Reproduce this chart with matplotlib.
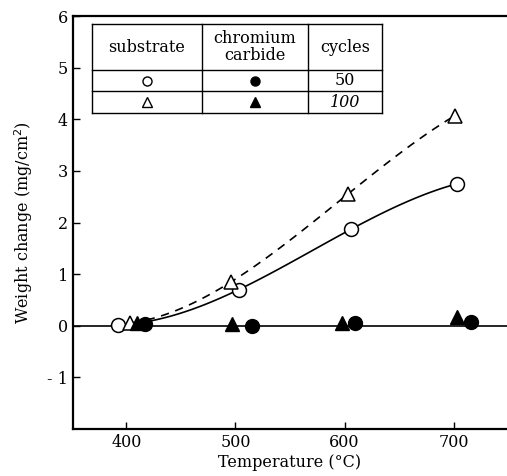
import matplotlib
matplotlib.use("Agg")
import matplotlib.pyplot as plt
import numpy as np

plt.rcParams['font.family'] = ['DejaVu Serif']

# substrate, 50 cycles (open circles) and 100 cycles (open triangles)
sub50_T = [392, 503, 606, 703]
sub50_W = [0.02, 0.70, 1.87, 2.75]
sub100_T = [403, 496, 603, 701]
sub100_W = [0.05, 0.85, 2.55, 4.07]

# chromium carbide, 50 cycles (filled circles) and 100 cycles (filled triangles)
cc50_T = [417, 515, 610, 716]
cc50_W = [0.03, 0.0, 0.05, 0.08]
cc100_T = [410, 497, 598, 703]
cc100_W = [0.06, 0.03, 0.06, 0.17]

yticks = [-1, 0, 1, 2, 3, 4, 5, 6]
xticks = [400, 500, 600, 700]

fig = plt.figure(figsize=(5.07, 4.76), dpi=100)
ax = fig.add_axes([0.144, 0.099, 0.856, 0.867])

# smooth trend curves through the substrate points
fit50 = np.polyfit(sub50_T, sub50_W, 3)
t50 = np.linspace(408, 700, 120)
ax.plot(t50, np.clip(np.polyval(fit50, t50), 0, None), color="black", lw=1.2, zorder=2)

fit100 = np.polyfit(sub100_T, sub100_W, 3)
t100 = np.linspace(405, 697, 120)
ax.plot(t100, np.polyval(fit100, t100), color="black", lw=1.2, ls=(0, (5, 4)), zorder=2)

# carbide line at zero
ax.axhline(0, color="black", lw=1.2, zorder=2)

ms = 10
ax.plot(sub50_T, sub50_W, "o", ms=ms, mfc="white", mec="black", mew=1.1, zorder=3)
ax.plot(sub100_T, sub100_W, "^", ms=ms, mfc="white", mec="black", mew=1.1, zorder=3)
ax.plot(cc100_T, cc100_W, "^", ms=ms, color="black", zorder=4)
ax.plot(cc50_T, cc50_W, "o", ms=ms, color="black", zorder=4)

ax.set_xlim(351, 749)
ax.set_ylim(-2, 6)
ax.set_xticks(xticks)
ax.set_yticks(yticks)
ax.set_yticklabels(["- 1", "0", "1", "2", "3", "4", "5", "6"])
ax.tick_params(direction="in", length=5, width=1, labelsize=11.5, top=False, right=False)
ax.spines["right"].set_visible(False)
for s in ["left", "bottom", "top"]:
    ax.spines[s].set_linewidth(1.6)

ax.set_xlabel("Temperature (°C)", fontsize=11.5, labelpad=2)
ax.set_ylabel("Weight change (mg/cm$^2$)", fontsize=11.5, labelpad=9)

# legend table drawn in axes coordinates
x0, x1, x2, x3 = 0.044, 0.297, 0.5415, 0.712
y0, y1, y2, y3 = 0.981, 0.869, 0.818, 0.765
tr = ax.transAxes
kw = dict(color="black", lw=1.0, transform=tr, zorder=5)
ax.fill([x0, x3, x3, x0], [y0, y0, y3, y3], color="white", transform=tr, zorder=4)
for y in [y0, y1, y2, y3]:
    ax.plot([x0, x3], [y, y], **kw)
for x in [x0, x1, x2, x3]:
    ax.plot([x, x], [y0, y3], **kw)

fs = 11.5
ax.text((x0 + x1) / 2, (y0 + y1) / 2, "substrate", ha="center", va="center", fontsize=fs, transform=tr, zorder=6)
ax.text((x1 + x2) / 2, (y0 + y1) / 2, "chromium\ncarbide", ha="center", va="center", fontsize=fs,
        linespacing=0.95, transform=tr, zorder=6)
ax.text((x2 + x3) / 2, (y0 + y1) / 2, "cycles", ha="center", va="center", fontsize=fs, transform=tr, zorder=6)
ax.text((x2 + x3) / 2, (y1 + y2) / 2, "50", ha="center", va="center", fontsize=fs, transform=tr, zorder=6)
ax.text((x2 + x3) / 2, (y2 + y3) / 2, "100", ha="center", va="center", fontsize=fs, style="italic",
        transform=tr, zorder=6)

lm = 6.5
ax.plot((x0 + x1) / 2, (y1 + y2) / 2, "o", ms=lm, mfc="white", mec="black", mew=1.0, transform=tr, zorder=6)
ax.plot((x1 + x2) / 2, (y1 + y2) / 2, "o", ms=lm, color="black", transform=tr, zorder=6)
ax.plot((x0 + x1) / 2, (y2 + y3) / 2, "^", ms=lm, mfc="white", mec="black", mew=1.0, transform=tr, zorder=6)
ax.plot((x1 + x2) / 2, (y2 + y3) / 2, "^", ms=lm, color="black", transform=tr, zorder=6)

fig.savefig("out.png", dpi=100)
